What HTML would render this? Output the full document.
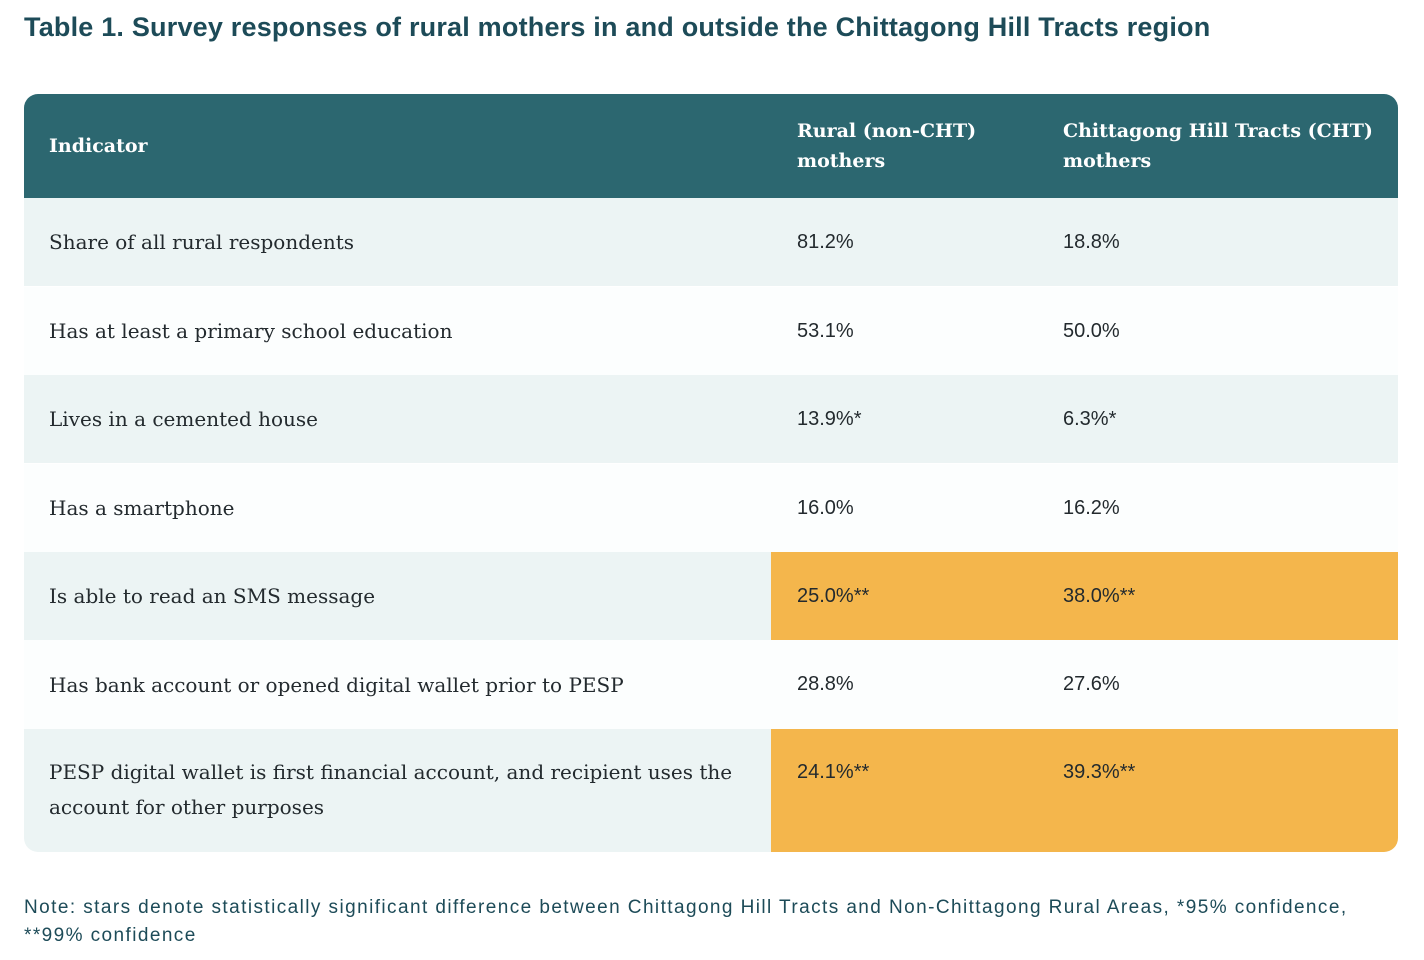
<!DOCTYPE html>
<html><head><meta charset="utf-8"><style>
body{margin:0;width:1424px;height:960px;background:#fff;position:relative;overflow:hidden;font-family:"Liberation Sans",sans-serif;}
.title{position:absolute;left:24px;top:12px;font-size:27px;letter-spacing:0.2px;font-weight:bold;color:#1d4b58;}
.table{position:absolute;left:24px;top:94px;width:1374px;height:758px;border-radius:14px;overflow:hidden;background:#fff;}
.row{position:absolute;left:0;width:1374px;display:flex;align-items:center;}
.hdr{top:0;height:104px;background:#2c6770;color:#fff;font-family:"DejaVu Serif",serif;font-weight:bold;font-size:19px;line-height:30px;}
.c1{position:absolute;left:25px;width:740px;}
.c2{position:absolute;left:773px;width:240px;}
.c3{position:absolute;left:1039px;width:330px;}
.light{background:#ecf4f4;}
.white{background:#fcfefe;}
.body .c1{font-family:"DejaVu Serif",serif;font-size:20px;color:#232a2e;}
.body .c2,.body .c3{font-size:20px;color:#232a2e;}
.or{position:absolute;left:747px;top:0;bottom:0;right:0;background:#f4b64c;}
.note{position:absolute;left:24px;top:894px;font-size:19px;letter-spacing:1.42px;color:#1d4b58;line-height:28px;}
</style></head><body>
<div class="title">Table 1. Survey responses of rural mothers in and outside the Chittagong Hill Tracts region</div>
<div class="table">
 <div class="row hdr">
  <div class="c1">Indicator</div>
  <div class="c2">Rural (non-CHT)<br>mothers</div>
  <div class="c3">Chittagong Hill Tracts (CHT)<br>mothers</div>
 </div>
 <div class="row body light" style="top:104px;height:88px">
  <div class="c1">Share of all rural respondents</div><div class="c2">81.2%</div><div class="c3">18.8%</div></div>
 <div class="row body white" style="top:193px;height:88px">
  <div class="c1">Has at least a primary school education</div><div class="c2">53.1%</div><div class="c3">50.0%</div></div>
 <div class="row body light" style="top:281px;height:88px">
  <div class="c1">Lives in a cemented house</div><div class="c2">13.9%*</div><div class="c3">6.3%*</div></div>
 <div class="row body white" style="top:370px;height:88px">
  <div class="c1">Has a smartphone</div><div class="c2">16.0%</div><div class="c3">16.2%</div></div>
 <div class="row body light" style="top:458px;height:88px">
  <div class="or"></div>
  <div class="c1">Is able to read an SMS message</div><div class="c2">25.0%**</div><div class="c3">38.0%**</div></div>
 <div class="row body white" style="top:546px;height:89px">
  <div class="c1">Has bank account or opened digital wallet prior to PESP</div><div class="c2">28.8%</div><div class="c3">27.6%</div></div>
 <div class="row body light" style="top:635px;height:123px;align-items:flex-start">
  <div class="or"></div>
  <div class="c1" style="top:26px;line-height:35px">PESP digital wallet is first financial account, and recipient uses the<br>account for other purposes</div><div class="c2" style="top:32px">24.1%**</div><div class="c3" style="top:32px">39.3%**</div></div>
</div>
<div class="note">Note: stars denote statistically significant difference between Chittagong Hill Tracts and Non-Chittagong Rural Areas, *95% confidence,<br>**99% confidence</div>
</body></html>
